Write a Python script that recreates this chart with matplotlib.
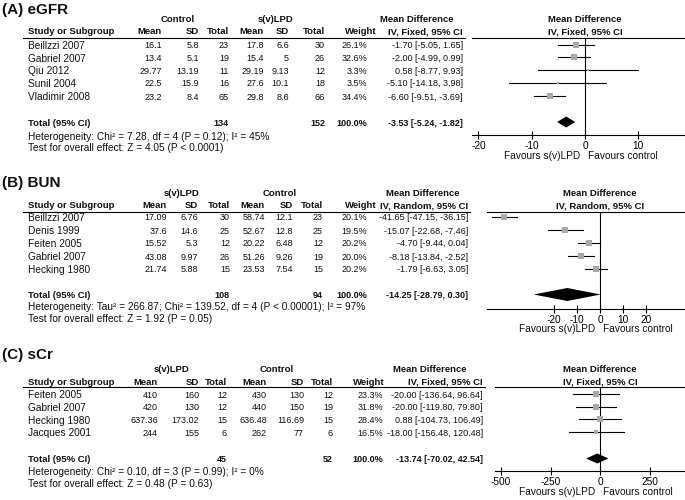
import matplotlib
matplotlib.use("Agg")
import matplotlib.pyplot as plt

plt.rcParams["font.family"] = ["Liberation Sans", "DejaVu Sans"]

W, H = 685, 500
FS_NUM = 6.5   # numeric cells
FS_TXT = 7.3   # study names, notes
FS_HEAD = 6.8  # bold headers
GRAY = "#a8a8a8"

# ---------------- (A) eGFR
a_studies = ["Beillzzi 2007", "Gabriel 2007", "Qiu 2012", "Sunil 2004", "Vladimir 2008"]
a_m1 = [16.1, 13.4, 29.77, 22.5, 23.2]
a_s1 = [5.8, 5.1, 13.19, 15.9, 8.4]
a_n1 = [23, 19, 11, 16, 65]
a_m2 = [17.8, 15.4, 29.19, 27.6, 29.8]
a_s2 = [6.6, 5, 9.13, 10.1, 8.6]
a_n2 = [30, 26, 12, 18, 66]
a_w = [26.1, 32.6, 3.3, 3.5, 34.4]
a_md = [-1.70, -2.00, 0.58, -5.10, -6.60]
a_lo = [-5.05, -4.99, -8.77, -14.18, -9.51]
a_hi = [1.65, 0.99, 9.93, 3.98, -3.69]
a_tot = [134, 152, -3.53, -5.24, -1.82]
a_groups = ["Control", "s(v)LPD"]
a_method = "IV, Fixed, 95% CI"
a_het = "Heterogeneity: Chi\u00b2 = 7.28, df = 4 (P = 0.12); I\u00b2 = 45%"
a_test = "Test for overall effect: Z = 4.05 (P < 0.0001)"
a_ticks = [-20, -10, 0, 10, 20]

# ---------------- (B) BUN
b_studies = ["Beillzzi 2007", "Denis 1999", "Feiten 2005", "Gabriel 2007", "Hecking 1980"]
b_m1 = [17.09, 37.6, 15.52, 43.08, 21.74]
b_s1 = [6.76, 14.6, 5.3, 9.97, 5.88]
b_n1 = [30, 25, 12, 26, 15]
b_m2 = [58.74, 52.67, 20.22, 51.26, 23.53]
b_s2 = [12.1, 12.8, 6.48, 9.26, 7.54]
b_n2 = [23, 25, 12, 19, 15]
b_w = [20.1, 19.5, 20.2, 20.0, 20.2]
b_md = [-41.65, -15.07, -4.70, -8.18, -1.79]
b_lo = [-47.15, -22.68, -9.44, -13.84, -6.63]
b_hi = [-36.15, -7.46, 0.04, -2.52, 3.05]
b_tot = [108, 94, -14.25, -28.79, 0.30]
b_groups = ["s(v)LPD", "Control"]
b_method = "IV, Random, 95% CI"
b_het = ("Heterogeneity: Tau\u00b2 = 266.87; Chi\u00b2 = 139.52, df = 4 "
         "(P < 0.00001); I\u00b2 = 97%")
b_test = "Test for overall effect: Z = 1.92 (P = 0.05)"
b_ticks = [-20, -10, 0, 10, 20]

# ---------------- (C) sCr
c_studies = ["Feiten 2005", "Gabriel 2007", "Hecking 1980", "Jacques 2001"]
c_m1 = [410, 420, 637.36, 244]
c_s1 = [160, 130, 173.02, 155]
c_n1 = [12, 12, 15, 6]
c_m2 = [430, 440, 636.48, 262]
c_s2 = [130, 150, 116.69, 77]
c_n2 = [12, 19, 15, 6]
c_w = [23.3, 31.8, 28.4, 16.5]
c_md = [-20.00, -20.00, 0.88, -18.00]
c_lo = [-136.64, -119.80, -104.73, -156.48]
c_hi = [96.64, 79.80, 106.49, 120.48]
c_tot = [45, 52, -13.74, -70.02, 42.54]
c_groups = ["s(v)LPD", "Control"]
c_method = "IV, Fixed, 95% CI"
c_het = "Heterogeneity: Chi\u00b2 = 0.10, df = 3 (P = 0.99); I\u00b2 = 0%"
c_test = "Test for overall effect: Z = 0.48 (P = 0.63)"
c_ticks = [-500, -250, 0, 250, 500]

# layout in pixels
lay_a = dict(title="(A) eGFR", ty=10, h1=19, h2=32, line=37.5,
             rows=[46, 58.5, 71, 84, 97], total=123.5, het=136.5, test=148,
             cols=[162, 199, 229, 264, 289, 325], wx=367, whx=377,
             gx=[178, 276], cix=463, cih=417, px0=472, axy=135, zero=585,
             scale=5.33, fav=156, dh=5.5)
lay_b = dict(title="(B) BUN", ty=183, h1=194, h2=206, line=211.5,
             rows=[218, 231, 244, 257, 270], total=296, het=307.5, test=319,
             cols=[167, 198, 230, 265, 293, 323], wx=367, whx=377,
             gx=[182, 280], cix=468, cih=423, px0=487, axy=309, zero=600,
             scale=2.3, fav=329, dh=6.5)
lay_c = dict(title="(C) sCr", ty=355, h1=369, h2=382.5, line=386.5,
             rows=[395.5, 408, 420.5, 433], total=460, het=472, test=484,
             cols=[158, 199, 227, 267, 304, 333], wx=383, whx=385,
             gx=[172, 277], cix=483, cih=430, px0=495, axy=471, zero=600,
             scale=0.198, fav=492, dh=5)

fig = plt.figure(figsize=(W / 100, H / 100), dpi=100)
ax = fig.add_axes([0, 0, 1, 1])
ax.set_xlim(0, W)
ax.set_ylim(H, 0)
ax.axis("off")


def txt(x, y, s, ha="left", bold=False, size=FS_TXT):
    ax.text(x, y, s, ha=ha, va="center", fontsize=size,
            fontweight="bold" if bold else "normal", color="#111111")


def panel(L, groups, method, studies, m1, s1, n1, m2, s2, n2, w, md, lo, hi,
          tot, het, test, ticks):
    sx = 28
    txt(2, L["ty"], L["title"], bold=True, size=11)
    # headers
    txt(L["gx"][0], L["h1"], groups[0], ha="center", bold=True, size=FS_HEAD)
    txt(L["gx"][1], L["h1"], groups[1], ha="center", bold=True, size=FS_HEAD)
    txt(L["cih"], L["h1"], "Mean Difference", ha="center", bold=True, size=FS_HEAD)
    txt(L["zero"], L["h1"], "Mean Difference", ha="center", bold=True, size=FS_HEAD)
    txt(sx, L["h2"], "Study or Subgroup", bold=True, size=FS_HEAD)
    for x, s in zip(L["cols"], ["Mean", "SD", "Total", "Mean", "SD", "Total"]):
        txt(x, L["h2"], s, ha="right", bold=True, size=FS_HEAD)
    txt(L["whx"], L["h2"], "Weight", ha="right", bold=True, size=FS_HEAD)
    txt(L["cix"], L["h2"], method, ha="right", bold=True, size=FS_HEAD)
    txt(L["zero"], L["h2"], method, ha="center", bold=True, size=FS_HEAD)
    ax.plot([sx - 5, L["cix"] + 2], [L["line"], L["line"]], color="black", lw=0.8)

    # study rows
    for i, name in enumerate(studies):
        y = L["rows"][i]
        txt(sx, y, name)
        vals = [m1[i], s1[i], n1[i], m2[i], s2[i], n2[i]]
        for x, v in zip(L["cols"], vals):
            txt(x, y, str(v), ha="right", size=FS_NUM)
        txt(L["wx"], y, f"{w[i]:.1f}%", ha="right", size=FS_NUM)
        txt(L["cix"], y, f"{md[i]:.2f} [{lo[i]:.2f}, {hi[i]:.2f}]", ha="right",
            size=FS_NUM)

    # total rows
    y = L["total"]
    txt(sx, y, "Total (95% CI)", bold=True, size=FS_HEAD)
    txt(L["cols"][2], y, str(tot[0]), ha="right", bold=True, size=FS_NUM)
    txt(L["cols"][5], y, str(tot[1]), ha="right", bold=True, size=FS_NUM)
    txt(L["wx"], y, "100.0%", ha="right", bold=True, size=FS_NUM)
    txt(L["cix"], y, f"{tot[2]:.2f} [{tot[3]:.2f}, {tot[4]:.2f}]", ha="right",
        bold=True, size=FS_NUM)
    txt(sx, L["het"], het)
    txt(sx, L["test"], test)

    # forest plot
    top, bot = L["line"], L["axy"]
    xmin = (L["px0"] - L["zero"]) / L["scale"]
    xmax = (W - L["zero"]) / L["scale"]
    fa = fig.add_axes([L["px0"] / W, 1 - bot / H, (W - L["px0"]) / W, (bot - top) / H])
    fa.set_xlim(xmin, xmax)
    fa.set_ylim(bot, top)
    fa.patch.set_alpha(0)
    for s in ("left", "right"):
        fa.spines[s].set_visible(False)
    for s in ("top", "bottom"):
        fa.spines[s].set_linewidth(0.8)
    fa.set_yticks([])
    shown = [t for t in ticks if xmin <= t <= xmax]
    fa.set_xticks(shown)
    fa.set_xticklabels([str(t) for t in shown])
    fa.tick_params(axis="x", direction="inout", length=6, width=0.8,
                   labelsize=7.3, pad=1)
    fa.axvline(0, color="black", lw=0.8)
    for i in range(len(studies)):
        y = L["rows"][i] - 1.5
        fa.plot([lo[i], hi[i]], [y, y], color="black", lw=0.8)
        fa.plot(md[i], y, marker="s", color=GRAY, ms=0.85 * w[i] ** 0.5, mew=0)
    y = L["total"] - 1.5
    dh = L["dh"]
    fa.fill([tot[3], tot[2], tot[4], tot[2]], [y, y - dh, y, y + dh],
            color="black", lw=0)
    fa.set_xlim(xmin, xmax)

    txt(L["zero"] - 5, L["fav"], "Favours s(v)LPD", ha="right", size=7.3)
    txt(L["zero"] + 3, L["fav"], "Favours control", size=7.3)


panel(lay_a, a_groups, a_method, a_studies, a_m1, a_s1, a_n1, a_m2, a_s2, a_n2,
      a_w, a_md, a_lo, a_hi, a_tot, a_het, a_test, a_ticks)
panel(lay_b, b_groups, b_method, b_studies, b_m1, b_s1, b_n1, b_m2, b_s2, b_n2,
      b_w, b_md, b_lo, b_hi, b_tot, b_het, b_test, b_ticks)
panel(lay_c, c_groups, c_method, c_studies, c_m1, c_s1, c_n1, c_m2, c_s2, c_n2,
      c_w, c_md, c_lo, c_hi, c_tot, c_het, c_test, c_ticks)

fig.savefig("out.png", dpi=100)
